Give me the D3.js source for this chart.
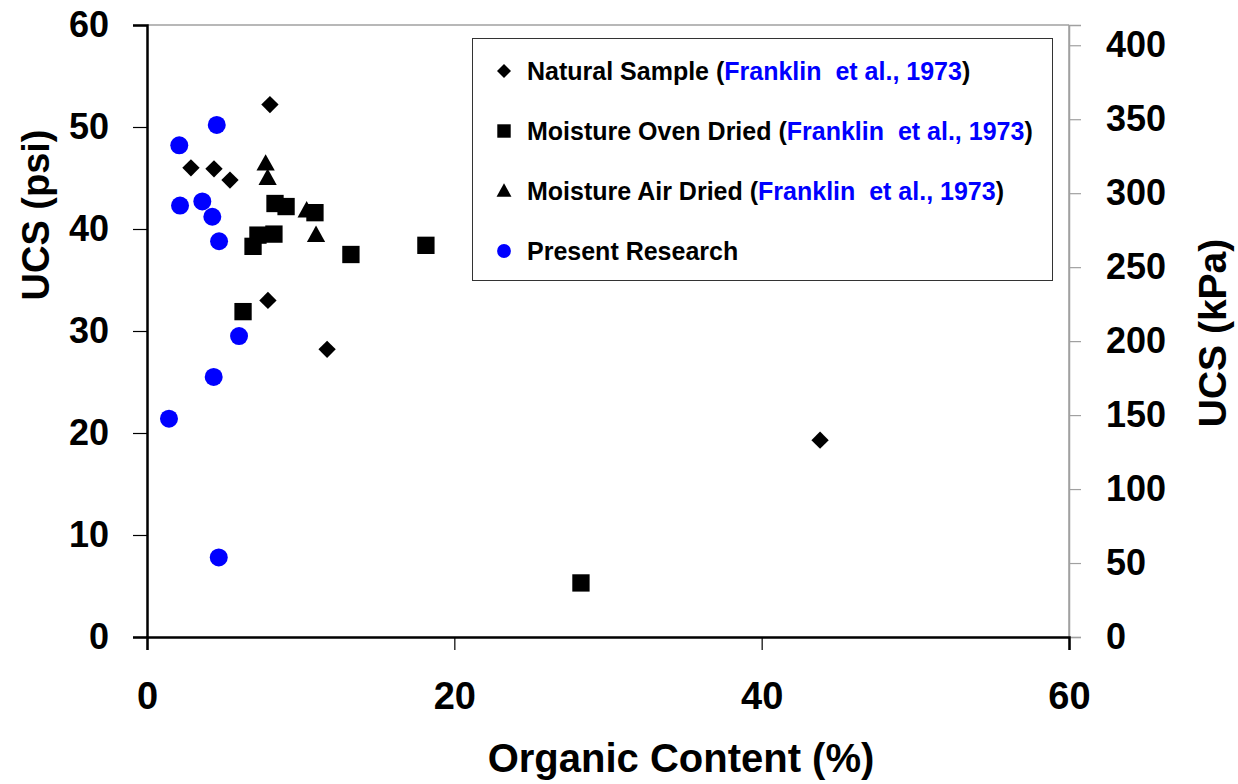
<!DOCTYPE html>
<html>
<head>
<meta charset="utf-8">
<script src="https://cdn.jsdelivr.net/npm/d3@7"></script>
<style>
  html, body { margin: 0; padding: 0; background: #fff; }
  svg { display: block; font-family: "Liberation Sans", Arial, sans-serif; font-weight: bold; }
</style>
</head>
<body>
<svg id="chart" width="1238" height="784"></svg>
<script>
// Organic content (%) vs unconfined compressive strength (psi)
const naturalX = [8.0, 2.86, 4.36, 5.40, 7.87, 11.72, 43.8];
const naturalY = [52.2, 46.0, 45.9, 44.8, 33.0, 28.2, 19.3];

const ovenX = [8.33, 9.05, 10.93, 7.22, 8.26, 6.9, 13.27, 18.15, 6.25, 28.24];
const ovenY = [42.5, 42.2, 41.6, 39.4, 39.5, 38.3, 37.5, 38.4, 31.9, 5.3];

const airX = [7.72, 7.85, 10.39, 11.0];
const airY = [46.4, 45.0, 41.8, 39.4];

const presentX = [4.54, 2.10, 2.15, 3.6, 4.25, 4.69, 5.99, 4.34, 1.43, 4.67];
const presentY = [50.2, 48.2, 42.3, 42.7, 41.2, 38.8, 29.5, 25.5, 21.4, 7.8];

const xTicks = [0, 20, 40, 60];
const psiTicks = [0, 10, 20, 30, 40, 50, 60];
const kpaTicks = [0, 50, 100, 150, 200, 250, 300, 350, 400];
const PSI_TO_KPA = 6.894757;

const citation = "Franklin  et al., 1973";
const legendItems = [
  { pre: "Natural Sample (", cite: citation, post: ")", shape: "diamond", color: "#000" },
  { pre: "Moisture Oven Dried (", cite: citation, post: ")", shape: "square", color: "#000" },
  { pre: "Moisture Air Dried (", cite: citation, post: ")", shape: "triangle", color: "#000" },
  { pre: "Present Research", cite: "", post: "", shape: "circle", color: "#0000ff" }
];

const svg = d3.select("#chart");
const plotLeft = 147, plotRight = 1069, plotTop = 25, plotBottom = 637;

const x = d3.scaleLinear().domain([0, 60]).range([plotLeft, plotRight]);
const y = d3.scaleLinear().domain([0, 60]).range([plotBottom, plotTop]);
const yk = d3.scaleLinear().domain([0, 60 * PSI_TO_KPA]).range([plotBottom, plotTop]);

// custom marker shapes
const diamond = { draw(ctx, size) { const r = Math.sqrt(size / 2); ctx.moveTo(0, -r); ctx.lineTo(r, 0); ctx.lineTo(0, r); ctx.lineTo(-r, 0); ctx.closePath(); } };
const square = { draw(ctx, size) { const h = Math.sqrt(size) / 2; ctx.rect(-h, -h, 2 * h, 2 * h); } };
const triangle = { draw(ctx, size) { const w = Math.sqrt(size * 2 / 0.9) / 2; const h = w * 1.8; ctx.moveTo(0, -h * 0.58); ctx.lineTo(w, h * 0.42); ctx.lineTo(-w, h * 0.42); ctx.closePath(); } };
const circle = d3.symbolCircle;
const shapes = { diamond, square, triangle, circle };
const sizes = { diamond: 150, square: 300, triangle: 150, circle: 254 };
const legendSizes = { diamond: 98, square: 180, triangle: 100, circle: 150 };

// plot frame: grey top and right edges
svg.append("line").attr("x1", plotLeft).attr("x2", plotRight).attr("y1", plotTop).attr("y2", plotTop)
  .attr("stroke", "#a0a0a0").attr("stroke-width", 1.5);
svg.append("line").attr("x1", plotRight).attr("x2", plotRight).attr("y1", plotTop).attr("y2", plotBottom)
  .attr("stroke", "#a0a0a0").attr("stroke-width", 1.5);

// left axis (psi)
const gl = svg.append("g").attr("transform", `translate(${plotLeft},0)`)
  .call(d3.axisLeft(y).tickValues(psiTicks).tickSize(14).tickPadding(24).tickFormat(d3.format("d")));
gl.select(".domain").attr("stroke", "#000").attr("stroke-width", 2.5);
gl.selectAll(".tick line").attr("stroke", "#000").attr("stroke-width", 1.2);
gl.selectAll(".tick text").attr("font-size", 36).attr("font-weight", "bold").attr("fill", "#000")
  .attr("font-family", "Liberation Sans, Arial, sans-serif");

// right axis (kPa)
const gr = svg.append("g").attr("transform", `translate(${plotRight},0)`)
  .call(d3.axisRight(yk).tickValues(kpaTicks).tickSize(12).tickPadding(24).tickFormat(d3.format("d")));
gr.select(".domain").attr("stroke", "#a0a0a0").attr("stroke-width", 1.5);
gr.selectAll(".tick line").attr("stroke", "#a0a0a0").attr("stroke-width", 1.2);
gr.selectAll(".tick text").attr("font-size", 36).attr("font-weight", "bold").attr("fill", "#000")
  .attr("text-anchor", "start").attr("x", 37)
  .attr("font-family", "Liberation Sans, Arial, sans-serif");

// bottom axis
const gb = svg.append("g").attr("transform", `translate(0,${plotBottom})`)
  .call(d3.axisBottom(x).tickValues(xTicks).tickSize(13).tickPadding(32).tickFormat(d3.format("d")));
gb.select(".domain").attr("stroke", "#000").attr("stroke-width", 2.5);
gb.selectAll(".tick line").attr("stroke", "#000").attr("stroke-width", 1.2);
gb.selectAll(".tick text").attr("font-size", 38).attr("font-weight", "bold").attr("fill", "#000")
  .attr("font-family", "Liberation Sans, Arial, sans-serif");

// axis titles
svg.append("text").attr("transform", "translate(49,215) rotate(-90)")
  .attr("text-anchor", "middle").attr("font-size", 38).text("UCS (psi)");
svg.append("text").attr("transform", "translate(1226,333) rotate(-90)")
  .attr("text-anchor", "middle").attr("font-size", 39).text("UCS (kPa)");
svg.append("text").attr("x", 681).attr("y", 772)
  .attr("text-anchor", "middle").attr("font-size", 40).text("Organic Content (%)");

// data series
const series = [
  { xs: naturalX, ys: naturalY, shape: "diamond", color: "#000" },
  { xs: ovenX, ys: ovenY, shape: "square", color: "#000" },
  { xs: airX, ys: airY, shape: "triangle", color: "#000" },
  { xs: presentX, ys: presentY, shape: "circle", color: "#0000ff" }
];
series.forEach(s => {
  const pts = s.xs.map((v, i) => [v, s.ys[i]]);
  svg.append("g").selectAll("path").data(pts).join("path")
    .attr("transform", d => `translate(${x(d[0])},${y(d[1])})`)
    .attr("d", d3.symbol().type(shapes[s.shape]).size(sizes[s.shape]))
    .attr("fill", s.color);
});

// legend
const lg = svg.append("g");
lg.append("rect").attr("x", 472.5).attr("y", 38.5).attr("width", 580).attr("height", 242)
  .attr("fill", "#fff").attr("stroke", "#333").attr("stroke-width", 1);
legendItems.forEach((it, i) => {
  const cy = 71 + i * 60;
  lg.append("path").attr("transform", `translate(504,${cy})`)
    .attr("d", d3.symbol().type(shapes[it.shape]).size(legendSizes[it.shape]))
    .attr("fill", it.color);
  const t = lg.append("text").attr("x", 527).attr("y", cy + 9).attr("font-size", 25)
    .attr("xml:space", "preserve").style("white-space", "pre");
  t.append("tspan").attr("fill", "#000").text(it.pre);
  if (it.cite) {
    t.append("tspan").attr("fill", "#0000ff").text(it.cite);
    t.append("tspan").attr("fill", "#000").text(it.post);
  }
});
</script>
</body>
</html>
